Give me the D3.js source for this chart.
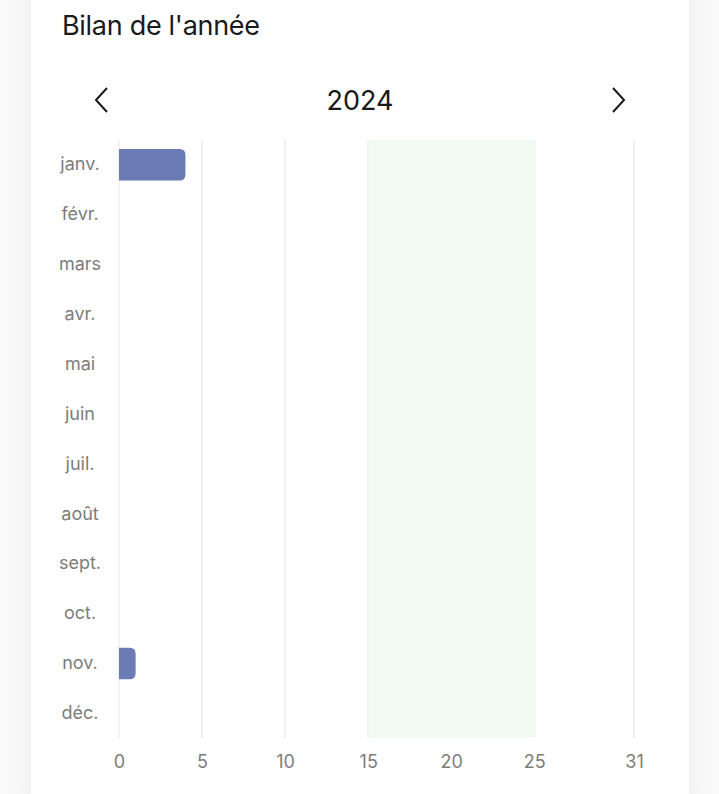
<!DOCTYPE html>
<html><head><meta charset="utf-8">
<script src="https://cdn.jsdelivr.net/npm/d3@7"></script>
<style>
html,body{margin:0;padding:0;background:#fff;}
svg{display:block;}
</style></head>
<body>
<script>
const title = "Bilan de l'année";
const year = "2024";
const months = ["janv.","févr.","mars","avr.","mai","juin","juil.","août","sept.","oct.","nov.","déc."];
const values = [4,0,0,0,0,0,0,0,0,0,1,0];
const xTicks = [0,5,10,15,20,25,31];
const targetRange = [15,25];
const xMax = 31;

const W=719,H=794;
const svg=d3.select("body").append("svg").attr("width",W).attr("height",H);
const defs=svg.append("defs");
const f=defs.append("filter").attr("id","sh").attr("x","-20%").attr("y","-20%").attr("width","140%").attr("height","140%");
f.append("feDropShadow").attr("dx",0).attr("dy",0).attr("stdDeviation",12).attr("flood-color","#000").attr("flood-opacity",0.07);
svg.append("rect").attr("width",W).attr("height",H).attr("fill","#fafafa");
svg.append("rect").attr("x",31).attr("y",-20).attr("width",658).attr("height",H+40).attr("rx",14).attr("fill","#fff").attr("filter","url(#sh)");

const font="Inter, 'Open Sans', sans-serif";
svg.append("text").attr("x",62).attr("y",35).text(title)
  .attr("font-family",font).attr("font-size",27).attr("fill","#1a1a1a").attr("font-weight",400).attr("letter-spacing",-0.3);
svg.append("text").attr("x",360).attr("y",110).attr("text-anchor","middle").text(year)
  .attr("font-family",font).attr("font-size",27).attr("fill","#1a1a1a");
svg.append("path").attr("d","M107,88 L96,100 L107,112").attr("fill","none").attr("stroke","#1a1a1a").attr("stroke-width",2);
svg.append("path").attr("d","M613,88 L624,100 L613,112").attr("fill","none").attr("stroke","#1a1a1a").attr("stroke-width",2);

const x=d3.scaleLinear().domain([0,xMax]).range([119,634]);
const y=d3.scaleBand().domain(months).range([140,738]).paddingInner(0.37).paddingOuter(0.18);

const g=svg.append("g");
g.selectAll("line.grid").data(xTicks).join("line").attr("class","grid")
  .attr("x1",d=>x(d)).attr("x2",d=>x(d)).attr("y1",140).attr("y2",738)
  .attr("stroke",d=>d===0?"#f3f3f3":"#efefef").attr("stroke-width",2);
g.append("rect").attr("x",x(targetRange[0])).attr("y",140).attr("width",x(targetRange[1])-x(targetRange[0])).attr("height",598).attr("fill","#f1fbf4");

const r=6;
g.selectAll("path.bar").data(months.map((m,i)=>({m,v:values[i]})).filter(d=>d.v>0)).join("path").attr("class","bar")
  .attr("fill","#6b7bb6")
  .attr("d",d=>{
    const x0=x(0),x1=x(d.v),y0=y(d.m),h=y.bandwidth();
    const rr=Math.min(r,(x1-x0));
    return `M${x0},${y0} H${x1-rr} Q${x1},${y0} ${x1},${y0+rr} V${y0+h-rr} Q${x1},${y0+h} ${x1-rr},${y0+h} H${x0} Z`;
  });

const yAxis=svg.append("g").attr("transform","translate(80,0)").call(d3.axisLeft(y).tickSize(0).tickPadding(0));
yAxis.select(".domain").remove();
yAxis.selectAll("text").attr("text-anchor","middle").attr("x",0).attr("font-family",font).attr("font-size",18).attr("fill","#7d7d7d");

const xAxis=svg.append("g").attr("transform","translate(0,755)").call(d3.axisBottom(x).tickValues(xTicks).tickSize(0).tickPadding(0).tickFormat(d3.format("d")));
xAxis.select(".domain").remove();
xAxis.selectAll("text").attr("dy","0.71em").attr("font-family",font).attr("font-size",18).attr("fill","#7d7d7d");
</script>
</body></html>
